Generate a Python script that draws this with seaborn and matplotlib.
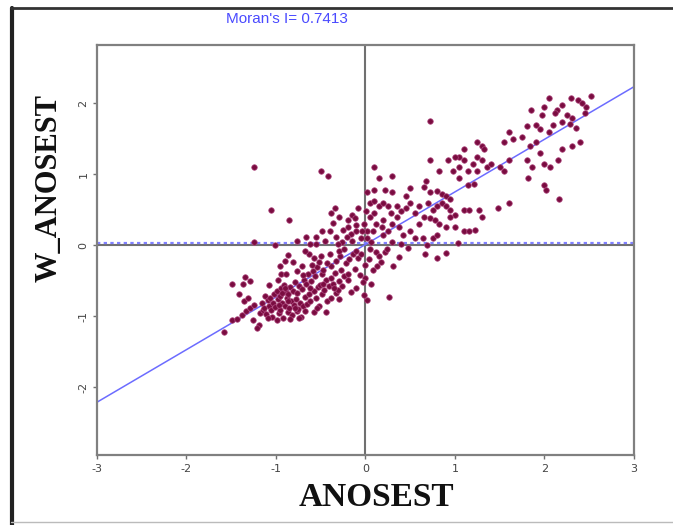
import numpy as np
import pandas as pd
import matplotlib
matplotlib.use("Agg")
import matplotlib.pyplot as plt
import seaborn as sns
from matplotlib.lines import Line2D

# Moran scatterplot values (ANOSEST, W_ANOSEST)
morans_i = 0.7413
intercept = 0.01
x_ticks = [-3, -2, -1, 0, 1, 2, 3]
y_ticks = [-2, -1, 0, 1, 2]

high_high = [
    (2.05, 2.08), (2.3, 2.08), (2.38, 2.04), (2.52, 2.1), (2.42, 2.0), (2.46, 1.95), (2.2, 1.98), (2.14, 1.9),
    (2.0, 1.95), (1.97, 1.84), (2.12, 1.86), (2.25, 1.84), (2.31, 1.79), (2.2, 1.74), (2.09, 1.69), (2.28, 1.71),
    (1.85, 1.9), (1.9, 1.7), (1.95, 1.64), (2.05, 1.6), (1.8, 1.68), (1.6, 1.6), (1.65, 1.5), (1.55, 1.45),
    (1.75, 1.52), (1.84, 1.4), (1.9, 1.45), (2.35, 1.65), (2.45, 1.86), (2.4, 1.46), (2.31, 1.4), (2.2, 1.35),
    (2.15, 1.2), (1.8, 1.2), (1.86, 1.1), (2.0, 1.15), (2.06, 1.1), (1.95, 1.3), (1.6, 1.2), (1.55, 1.05),
    (1.5, 1.1), (1.82, 0.95), (2.0, 0.85), (2.02, 0.78), (2.16, 0.65), (1.6, 0.6), (1.48, 0.52), (1.25, 1.45),
    (1.3, 1.4), (1.33, 1.35), (1.25, 1.25), (1.3, 1.2), (1.36, 1.1), (1.2, 1.15), (1.1, 1.35), (1.05, 1.25),
    (1.1, 1.2), (1.05, 1.1), (1.0, 1.25), (0.92, 1.2), (0.72, 1.75), (0.72, 1.2), (0.82, 1.05), (0.98, 1.05),
    (1.15, 1.05), (1.25, 1.05), (1.4, 1.15), (1.15, 0.85), (1.21, 0.86), (1.05, 0.95), (0.68, 0.9), (0.65, 0.82),
    (0.72, 0.75), (0.8, 0.77), (0.85, 0.72), (0.9, 0.7), (0.95, 0.65), (0.85, 0.6), (0.8, 0.55), (0.9, 0.55),
    (0.95, 0.5), (0.75, 0.5), (0.7, 0.6), (1.1, 0.5), (1.16, 0.5), (1.27, 0.5), (1.3, 0.4), (1.0, 0.42),
    (0.95, 0.4), (0.72, 0.38), (0.65, 0.4), (0.78, 0.35), (0.82, 0.3), (0.9, 0.25), (1.0, 0.25), (1.1, 0.2),
    (1.16, 0.2), (1.22, 0.22), (0.5, 0.8), (0.45, 0.7), (0.5, 0.6), (0.45, 0.52), (0.4, 0.48), (0.35, 0.55),
    (0.3, 0.75), (0.22, 0.78), (0.1, 0.78), (0.02, 0.75), (0.05, 0.6), (0.15, 0.55), (0.25, 0.55), (0.28, 0.45),
    (0.35, 0.4), (0.3, 0.3), (0.2, 0.35), (0.1, 0.45), (0.05, 0.4), (0.01, 0.48), (0.1, 1.1), (0.15, 0.95),
    (0.3, 0.98), (0.5, 0.2), (0.6, 0.3), (0.55, 0.1), (0.64, 0.1), (0.75, 0.1), (0.8, 0.15), (0.42, 0.15),
    (0.38, 0.25), (0.25, 0.2), (0.18, 0.25), (0.12, 0.3), (0.08, 0.2), (0.02, 0.2), (0.2, 0.15), (0.3, 0.05),
    (0.4, 0.02), (1.03, 0.03), (0.02, 0.1), (0.06, 0.05), (0.1, 0.62), (0.2, 0.6), (0.55, 0.45), (0.6, 0.55),
]

high_low = [
    (0.69, 0.0), (0.67, -0.13), (0.8, -0.18), (0.9, -0.11), (0.48, -0.04), (0.37, -0.17), (0.31, -0.3),
    (0.17, -0.24), (0.22, -0.1), (0.24, -0.05), (0.08, -0.35), (0.0, -0.46), (0.02, -0.77), (0.26, -0.73),
    (0.12, -0.1), (0.05, -0.06), (0.04, -0.2), (0.13, -0.3), (0.06, -0.55), (0.15, -0.15),
]

low_high = [
    (-1.25, 1.1), (-0.5, 1.05), (-0.42, 0.98), (-1.25, 0.05), (-1.05, 0.5), (-0.85, 0.35), (-0.62, 0.02),
    (-0.55, 0.01), (-0.76, 0.06), (-0.66, 0.12), (-1.01, 0.0), (-0.45, 0.06), (-0.36, 0.31), (-0.38, 0.46),
    (-0.34, 0.52), (-0.29, 0.4), (-0.2, 0.36), (-0.15, 0.42), (-0.11, 0.29), (-0.05, 0.1), (-0.1, 0.2),
    (-0.16, 0.16), (-0.21, 0.11), (-0.26, 0.05), (-0.31, 0.02), (-0.12, 0.38), (-0.08, 0.52), (-0.2, 0.25),
    (-0.25, 0.22), (-0.4, 0.2), (-0.02, 0.3), (-0.04, 0.2), (-0.33, 0.12), (-0.15, 0.06), (-0.55, 0.12),
    (-0.48, 0.2),
]

low_low = [
    (-1.58, -1.22), (-1.49, -1.06), (-1.43, -1.04), (-1.38, -0.98), (-1.33, -0.93), (-1.29, -0.88), (-1.36, -0.79),
    (-1.24, -0.84), (-1.19, -1.12), (-1.21, -1.17), (-1.18, -0.96), (-1.14, -0.91), (-1.16, -0.81), (-1.12, -0.72),
    (-1.09, -0.77), (-1.08, -0.86), (-1.11, -0.97), (-1.04, -1.01), (-1.06, -0.92), (-1.03, -0.82), (-1.02, -0.69),
    (-0.99, -0.64), (-0.98, -0.76), (-1.01, -0.87), (-0.97, -0.96), (-0.94, -0.61), (-0.96, -0.71), (-0.93, -0.82),
    (-0.95, -0.91), (-0.92, -1.02), (-0.91, -0.56), (-0.89, -0.66), (-0.88, -0.74), (-0.9, -0.86), (-0.87, -0.94),
    (-0.84, -0.59), (-0.86, -0.69), (-0.83, -0.79), (-0.85, -0.89), (-0.82, -0.99), (-0.79, -0.52), (-0.81, -0.64),
    (-0.78, -0.76), (-0.8, -0.84), (-0.77, -0.93), (-0.74, -0.57), (-0.76, -0.68), (-0.73, -0.81), (-0.75, -0.9),
    (-0.69, -0.49), (-0.71, -0.62), (-0.68, -0.73), (-0.7, -0.86), (-0.72, -1.01), (-0.64, -0.41), (-0.66, -0.54),
    (-0.63, -0.69), (-0.65, -0.83), (-0.59, -0.36), (-0.61, -0.51), (-0.58, -0.64), (-0.62, -0.79), (-0.57, -0.94),
    (-0.54, -0.31), (-0.56, -0.44), (-0.53, -0.59), (-0.55, -0.74), (-0.49, -0.41), (-0.51, -0.56), (-0.48, -0.69),
    (-0.52, -0.86), (-0.44, -0.49), (-0.46, -0.63), (-0.43, -0.79), (-0.39, -0.46), (-0.41, -0.58), (-0.38, -0.74),
    (-0.34, -0.39), (-0.36, -0.54), (-0.33, -0.68), (-0.29, -0.51), (-0.31, -0.63), (-0.24, -0.44), (-0.26, -0.58),
    (-0.19, -0.49), (-0.16, -0.66), (-0.11, -0.61), (-0.29, -0.76), (-0.44, -0.94), (-0.54, -0.89), (-0.74, -1.02),
    (-0.84, -1.04), (-0.99, -1.06), (-1.09, -1.03), (-1.26, -1.06), (-1.31, -0.74), (-1.41, -0.69), (-1.37, -0.54),
    (-0.98, -0.49), (-1.08, -0.56), (-0.94, -0.41), (-0.76, -0.36), (-0.71, -0.29), (-0.81, -0.24), (-0.93, -0.68),
    (-0.87, -0.78), (-0.97, -0.84), (-0.79, -0.89), (-0.67, -0.93), (-1.13, -0.88), (-1.07, -0.74), (-0.9, -0.6),
    (-0.62, -0.6), (-0.47, -0.55), (-0.35, -0.6), (-0.27, -0.35), (-0.2, -0.4), (-0.22, -0.25), (-0.12, -0.33),
    (-0.06, -0.42), (-0.03, -0.52), (-0.01, -0.28), (-0.08, -0.18), (-0.14, -0.12), (-0.18, -0.2), (-0.28, -0.15),
    (-0.33, -0.22), (-0.38, -0.3), (-0.43, -0.25), (-0.47, -0.35), (-0.52, -0.24), (-0.58, -0.18), (-0.63, -0.13),
    (-0.68, -0.08), (-0.86, -0.14), (-0.9, -0.22), (-0.96, -0.3), (-0.89, -0.41), (-1.34, -0.45), (-1.49, -0.55),
    (-1.29, -0.5), (-0.3, -0.08), (-0.24, -0.06), (-0.4, -0.12), (-0.1, -0.08), (-0.05, -0.12), (-0.02, -0.7),
    (-0.7, -0.42), (-0.6, -0.28), (-0.5, -0.15),
]

df = pd.DataFrame(high_high + high_low + low_high + low_low, columns=["ANOSEST", "W_ANOSEST"])

sns.set_style("white")

fig = plt.figure(figsize=(6.73, 5.25), dpi=100)
ax = fig.add_axes([0.144, 0.133, 0.798, 0.781])

# quadrant lines and mean line
ax.axvline(0, color="#707070", lw=1.5, zorder=1)
ax.axhline(0, color="#707070", lw=1.5, zorder=1)
ax.axhline(0.025, color="#8080ff", lw=1.6, ls=(0, (1.5, 1.5)), zorder=1)
ax.axline((0, intercept), slope=morans_i, color="#6c6cff", lw=1.1, zorder=2)

sns.scatterplot(data=df, x="ANOSEST", y="W_ANOSEST", ax=ax, color="#7a0c40",
                s=16, edgecolor="#b04a80", linewidth=0.5, zorder=3)

ax.set_xlim(-3, 3)
ax.set_ylim(-2.96, 2.82)
ax.set_xticks(x_ticks)
ax.set_yticks(y_ticks)
ax.set_xticklabels([str(t) for t in x_ticks], fontsize=8, color="#444444")
ax.set_yticklabels([str(t) for t in y_ticks], fontsize=8, color="#444444", rotation=90, va="center")
ax.tick_params(axis="both", length=3, width=1, color="#707070", direction="out", pad=3)
ax.tick_params(axis="x", bottom=True)
ax.tick_params(axis="y", left=True)
for side in ["left", "right", "top", "bottom"]:
    ax.spines[side].set_color("#808080")
    ax.spines[side].set_linewidth(1.6)
ax.set_xlabel("")
ax.set_ylabel("")

fig.text(0.56, 0.053, "ANOSEST", ha="center", va="center", fontsize=24,
         fontweight="bold", family="Liberation Serif", color="#111111")
fig.text(0.073, 0.642, "W_ANOSEST", ha="center", va="center", fontsize=22,
         fontweight="bold", family="Liberation Serif", color="#111111", rotation=90)
fig.text(0.427, 0.964, "Moran's I= 0.7413", ha="center", va="center", fontsize=11,
         family="Liberation Sans", color="#4a4aff")

# frame of the original screenshot
fig.add_artist(Line2D([0.018, 0.018], [0.0, 0.985], color="#222222", lw=3, transform=fig.transFigure))
fig.add_artist(Line2D([0.016, 1.0], [0.984, 0.984], color="#333333", lw=2, transform=fig.transFigure))
fig.add_artist(Line2D([0.016, 1.0], [0.006, 0.006], color="#bbbbbb", lw=1, transform=fig.transFigure))

fig.savefig("out.png", dpi=100)
